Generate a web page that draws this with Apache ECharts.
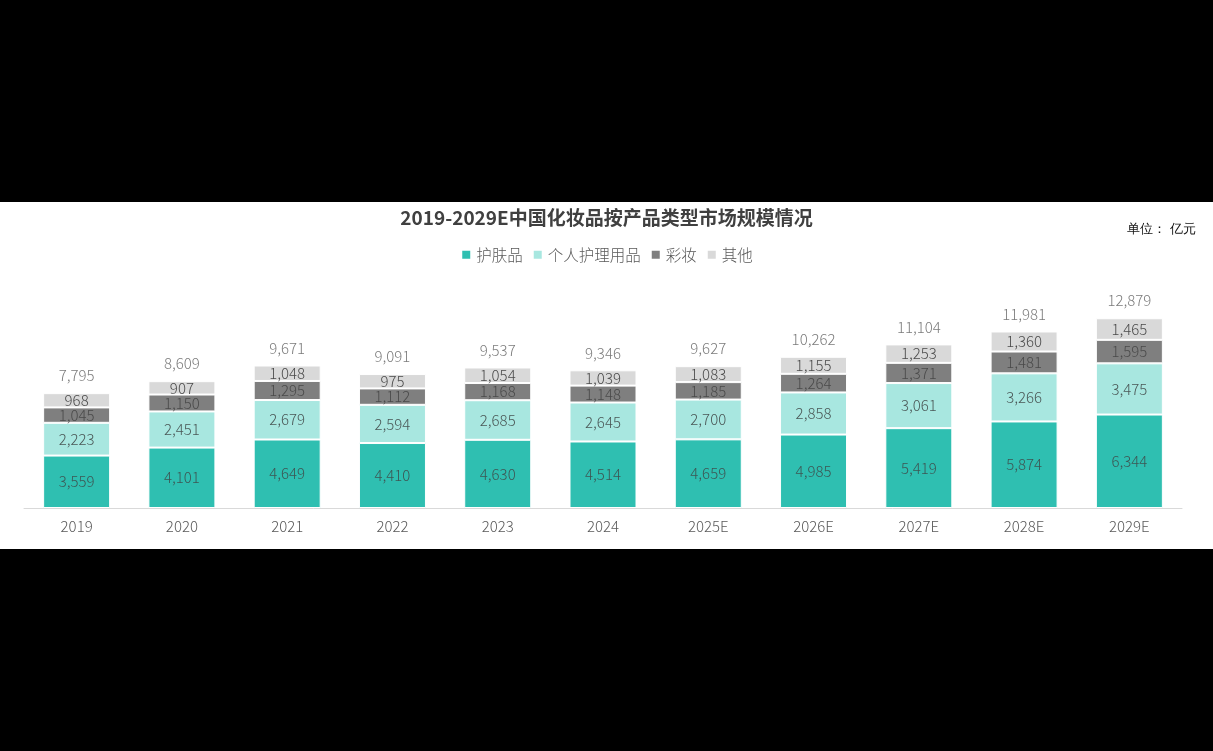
<!DOCTYPE html>
<html>
<head>
<meta charset="utf-8">
<script src="https://cdn.jsdelivr.net/npm/echarts@6/dist/echarts.min.js"></script>
<style>
html,body{margin:0;padding:0;background:#000;width:1213px;height:751px;overflow:hidden;}
#band{position:absolute;left:0;top:202px;width:1213px;height:347px;background:#fff;}
#chart{position:absolute;left:0;top:0;width:1213px;height:751px;}
</style>
</head>
<body>
<div id="band"></div>
<div id="chart"></div>
<script>
const categories = ['2019','2020','2021','2022','2023','2024','2025E','2026E','2027E','2028E','2029E'];
const skincare = [3559,4101,4649,4410,4630,4514,4659,4985,5419,5874,6344];
const personalCare = [2223,2451,2679,2594,2685,2645,2700,2858,3061,3266,3475];
const makeup = [1045,1150,1295,1112,1168,1148,1185,1264,1371,1481,1595];
const others = [968,907,1048,975,1054,1039,1083,1155,1253,1360,1465];
const totals = [7795,8609,9671,9091,9537,9346,9627,10262,11104,11981,12879];

const fmt = v => Number(v).toLocaleString('en-US');
const chart = echarts.init(document.getElementById('chart'), null, {renderer:'canvas'});
const font = '"Noto Sans CJK SC", "Noto Sans", sans-serif';
function seg(name, data, color, textColor){
  return {
    name, type:'bar', stack:'total', data, barWidth:67,
    itemStyle:{color, borderColor:'#fff', borderWidth:1},
    label:{show:true, position:'inside', formatter:p=>fmt(p.value), fontSize:15, fontWeight:300, color:textColor, fontFamily:font}
  };
}
chart.setOption({
  backgroundColor:'transparent',
  animation:false,
  textStyle:{fontFamily:font},
  title:{
    text:'2019-2029E中国化妆品按产品类型市场规模情况',
    left:'center', top:203,
    textStyle:{fontSize:19, fontWeight:'bold', color:'#404040', fontFamily:font}
  },
  graphic:[{
    type:'text', right:17, top:223,
    style:{text:'单位： 亿元', fontSize:13, fill:'#111', font:'13px "Noto Sans CJK SC", sans-serif'}
  }],
  legend:{
    data:['护肤品','个人护理用品','彩妆','其他'],
    left:'center', top:242,
    itemWidth:10, itemHeight:10, itemGap:9,
    icon:'rect',
    textStyle:{fontSize:15.5, fontWeight:300, color:'#595959', fontFamily:font}
  },
  grid:{left:24, right:31, top:287, bottom:243},
  xAxis:{
    type:'category', data:categories,
    axisLine:{lineStyle:{color:'#d9d9d9', width:1}},
    axisTick:{show:false},
    axisLabel:{fontSize:15, fontWeight:300, color:'#595959', margin:11, fontFamily:font}
  },
  yAxis:{type:'value', min:0, max:15000, show:false, splitLine:{show:false}},
  series:[
    seg('护肤品', skincare, '#2fbfb1', '#3d5654'),
    seg('个人护理用品', personalCare, '#a8e7e0', '#4a5756'),
    seg('彩妆', makeup, '#7f7f7f', '#4a4a4a'),
    seg('其他', others, '#d9d9d9', '#4a4a4a'),
    {
      name:'合计', type:'scatter', data:totals, symbolSize:0, silent:true,
      label:{show:true, position:'top', distance:10, formatter:p=>fmt(p.value), fontSize:15, fontWeight:300, color:'#595959', fontFamily:font},
      z:5
    }
  ]
});
</script>
</body>
</html>
